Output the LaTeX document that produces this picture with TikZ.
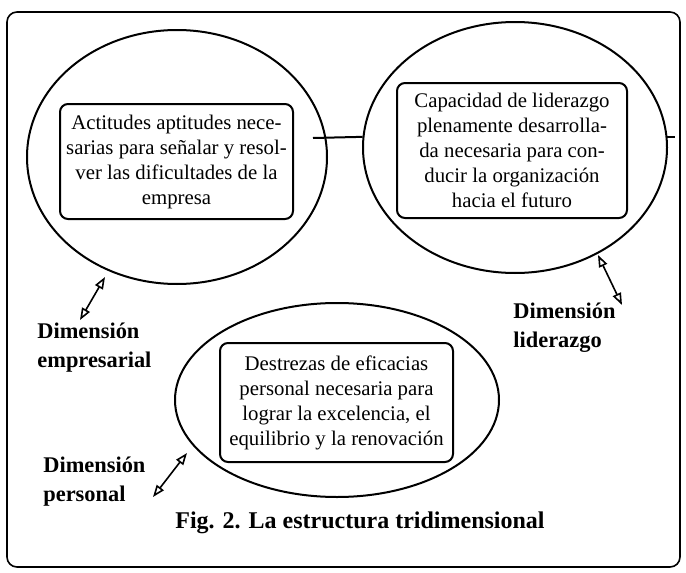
\documentclass[tikz,border=0pt]{standalone}
\usepackage{fontspec}
\setmainfont{Liberation Serif}
\usetikzlibrary{shapes.geometric,arrows.meta}

\begin{document}
\begin{tikzpicture}[x=0.5pt,y=-0.5pt,
  circulo/.style={draw, ellipse, line width=1pt, inner sep=0pt},
  caja/.style={draw, rounded corners=4pt, line width=1pt, align=center, inner sep=0pt,
    font=\fontsize{10.4}{12.5}\selectfont},
  etiqueta/.style={anchor=west, align=left, inner sep=0pt,
    font=\fontsize{11.2}{14.5}\selectfont\bfseries},
  flecha/.style={line width=0.8pt,
    {Triangle[open,length=6pt,width=4.4pt]}-{Triangle[open,length=6pt,width=4.4pt]}}]
% Estructura tridimensional: tres dimensiones y sus flechas
\useasboundingbox (0,0) rectangle (686,573);
\draw[line width=0.8pt, rounded corners=5pt] (7,12) rectangle (680,567);

\node[circulo, minimum width=150pt, minimum height=127pt] (emp) at (177,157) {};
\node[circulo, minimum width=152pt, minimum height=125.5pt] (lid) at (515,147.5) {};
\node[circulo, minimum width=162pt, minimum height=97pt] (per) at (337,400) {};

\node[caja, minimum width=116.5pt, minimum height=57.5pt] (cemp) at (176.5,161.5)
  {Actitudes aptitudes nece-\\sarias para señalar y resol-\\ver las dificultades de la\\empresa};
\node[caja, minimum width=115pt, minimum height=67.5pt] (clid) at (512,150.5)
  {Capacidad de liderazgo\\plenamente desarrolla-\\da necesaria para con-\\ducir la organización\\hacia el futuro};
\node[caja, minimum width=116.5pt, minimum height=59.5pt] (cper) at (336.5,402.5)
  {Destrezas de eficacias\\personal necesaria para\\lograr la excelencia, el\\equilibrio y la renovación};

\coordinate (ini) at (313,138);
\draw[line width=1pt] (ini) -- (lid.176);
\draw[line width=1pt] (lid.4) -- ++(8,0);

\node[etiqueta] (lemp) at (37,347.5) {Dimensión\\empresarial};
\node[etiqueta] (llid) at (513,327.5) {Dimensión\\liderazgo};
\node[etiqueta] (lper) at (43,482) {Dimensión\\personal};
\node[font=\fontsize{12}{14}\selectfont\bfseries] (fig) at (360,523)
  {Fig. 2. La estructura tridimensional};

\coordinate (e1) at (105,277);
\coordinate (e2) at (80,320);
\coordinate (l1) at (598,255);
\coordinate (l2) at (622,305);
\coordinate (p1) at (187,453);
\coordinate (p2) at (153,497);
\draw[flecha] (e1) -- (e2);
\draw[flecha] (l1) -- (l2);
\draw[flecha] (p1) -- (p2);
\end{tikzpicture}
\end{document}
